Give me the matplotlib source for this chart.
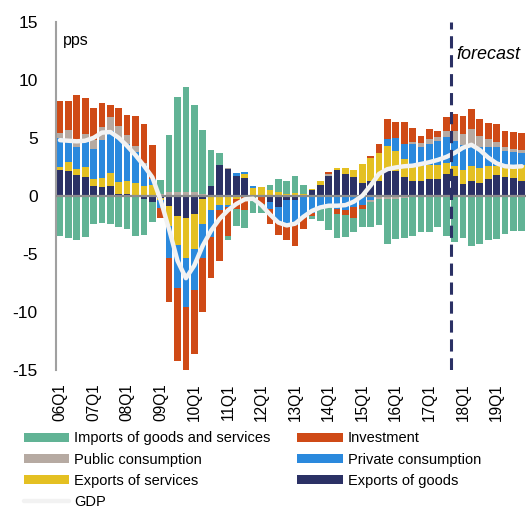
import numpy as np
import matplotlib
matplotlib.use("Agg")
from matplotlib import pyplot as plt

plt.rcParams['font.family'] = ['Liberation Sans', 'DejaVu Sans']
plt.rcParams['axes.unicode_minus'] = False

# quarters 2006Q1 .. 2019Q4
quarters = ["%02dQ%d" % (y, q) for y in range(6, 20) for q in range(1, 5)]

exp_goods = [2.2, 2.15, 1.78, 1.6, 0.83, 0.78, 0.83, 0.2, 0.2, 0.1, -0.23, -0.49, -0.2, -0.89,
             -1.75, -1.93, -1.55, -0.3, 0.89, 2.67, 2.33, 1.7, 1.55, 0.0, 0.0, -0.5, -1.0, -0.4,
             -0.4, 0.0, 0.5, 0.9, 1.75, 2.25, 1.9, 1.6, 1.12, 1.24, 1.3, 2.18, 2.18, 1.6, 1.32, 1.26,
             1.47, 1.47, 1.9, 1.67, 0.98, 1.24, 1.12, 1.41, 1.81, 1.61, 1.55, 1.24]
exp_serv = [0.29, 0.78, 0.57, 0.85, 0.66, 0.8, 1.18, 1.0, 1.09, 1.03, 0.83, 0.95, -0.15, -1.67,
            -2.53, -3.44, -3.0, -2.1, -1.26, -0.83, -0.78, -0.26, 0.34, 0.69, 0.75, 0.46, 0.37, 0.17,
            0.25, 0.15, 0.1, 0.35, 0.0, 0.15, 0.5, 0.65, 1.64, 2.04, 2.36, 2.15, 1.72, 1.59, 1.28, 1.35,
            1.15, 1.15, 0.92, 0.86, 1.26, 1.32, 1.29, 1.12, 0.72, 0.8, 0.86, 1.38]
priv_cons = [2.5, 2.0, 1.87, 2.2, 2.53, 3.22, 3.56, 3.8, 3.22, 2.64, 1.87, 0.52, -0.7, -2.78,
             -3.68, -4.23, -3.6, -3.0, -2.3, -0.35, -0.14, 0.29, 0.17, 0.2, 0.0, -0.6, -1.25, -2.1,
             -2.15, -1.85, -1.45, -1.0, -1.0, -1.1, -1.2, -1.0, -0.8, -0.4, 0.0, 0.57, 1.07, 1.29, 1.83, 1.64,
             1.87, 2.07, 2.24, 2.24, 2.18, 1.93, 1.78, 1.67, 1.67, 1.49, 1.35, 1.06]
pub_cons = [0.46, 0.72, 0.5, 0.65, 0.78, 1.15, 1.24, 1.0, 0.72, 0.52, 0.1, 0.0, 0.15, 0.3,
            0.3, 0.37, 0.3, 0.15, 0.0, 0.0, 0.06, 0.0, 0.0, 0.0, 0.0, 0.0, 0.0, 0.0,
            0.0, 0.0, 0.0, 0.0, 0.1, 0.0, 0.0, 0.0, 0.0, -0.1, -0.25, -0.3, -0.3, -0.15, 0.2, 0.29,
            0.43, 0.37, 0.52, 0.8, 0.92, 1.29, 1.0, 0.72, 0.43, 0.29, 0.29, 0.23]
investment = [2.7, 2.56, 3.96, 3.1, 2.73, 2.07, 1.0, 1.55, 1.78, 2.59, 3.35, 2.87, -0.9, -3.83,
              -6.24, -5.46, -5.45, -4.6, -3.53, -4.4, -2.56, -0.86, -1.18, 0.0, -0.69, -1.35, -1.15, -1.35,
              -1.75, -1.05, -0.3, 0.0, 0.2, -0.45, -0.45, -0.9, -0.3, 0.14, 0.8, 1.72, 1.38, 1.92, 1.21, 0.66,
              0.86, 0.52, 1.2, 1.5, 1.5, 1.67, 1.44, 1.38, 1.52, 1.38, 1.44, 1.49]
imports = [-3.5, -3.6, -3.85, -3.55, -2.44, -2.33, -2.39, -2.67, -2.9, -3.45, -3.16, -1.78, 1.2, 4.96,
           8.2, 9.0, 7.5, 5.55, 3.07, 0.98, -0.29, -1.44, -1.61, -1.47, -0.78, 0.49, 1.1, 1.13,
           1.5, 0.75, -0.25, -1.2, -1.95, -2.05, -1.9, -1.2, -1.6, -2.15, -2.3, -3.85, -3.4, -3.5, -3.45, -3.1,
           -3.13, -2.7, -3.42, -3.94, -3.65, -4.34, -4.14, -3.77, -3.7, -3.28, -3.07, -2.99]
gdp = [4.8, 4.75, 4.7, 4.75, 5.0, 5.45, 5.5, 5.0, 4.3, 3.5, 2.6, 1.6, -0.4, -2.9,
       -5.6, -7.1, -6.0, -4.3, -3.0, -2.0, -1.25, -0.7, -0.3, -0.25, -0.8, -1.6, -2.3, -2.55,
       -2.4, -1.8, -1.3, -1.0, -0.85, -0.85, -0.8, -0.5, 0.0, 0.9, 1.9, 2.3, 2.45, 2.55, 2.6, 2.75,
       2.9, 3.1, 3.35, 3.7, 4.15, 4.4, 3.95, 3.3, 2.8, 2.55, 2.5, 2.55]

forecast_start = 46.6

series = [
    ("Exports of goods", exp_goods, "#2b3165"),
    ("Exports of services", exp_serv, "#e4c022"),
    ("Private consumption", priv_cons, "#2a89dd"),
    ("Public consumption", pub_cons, "#b6aaa2"),
    ("Investment", investment, "#cf4a16"),
    ("Imports of goods and services", imports, "#61b395"),
]

fig = plt.figure(figsize=(5.26, 5.08), dpi=100)
ax = fig.add_axes([0.106, 0.272, 0.894, 0.685])

x = np.arange(len(quarters))
pos = np.zeros(len(x))
neg = np.zeros(len(x))
handles = {}
for name, vals, col in series:
    v = np.array(vals)
    bottom = np.where(v >= 0, pos, neg)
    h = ax.bar(x, v, width=0.8, bottom=bottom, color=col, zorder=2, label=name)
    handles[name] = h
    pos = pos + np.clip(v, 0, None)
    neg = neg + np.clip(v, None, 0)

ax.axhline(0, color="#8c8c8c", lw=1.6, zorder=3)
gdp_line, = ax.plot(x, gdp, color="#f2f2f2", lw=3.2, zorder=4, solid_capstyle="round", label="GDP")
ax.axvline(forecast_start, color="#2b3165", lw=2.2, ls=(0, (4, 2.2)), zorder=5)

ax.text(forecast_start + 0.65, 12.2, "forecast", fontsize=13, style="italic", va="center", ha="left")
ax.text(0.3, 13.4, "pps", fontsize=11.5, va="center", ha="left")

ax.set_xlim(-0.5, len(x) - 0.5)
ax.set_ylim(-15, 15)
ax.set_yticks([-15, -10, -5, 0, 5, 10, 15])
ax.set_xticks(x[::4])
ax.set_xticklabels(quarters[::4], rotation=90)
ax.tick_params(axis="both", length=0)
ax.tick_params(axis="y", pad=13, labelsize=12.5)
ax.tick_params(axis="x", pad=10, labelsize=11.2)
for s in ["top", "right", "bottom"]:
    ax.spines[s].set_visible(False)
ax.spines["left"].set_color("#a0a0a0")
ax.spines["left"].set_linewidth(1.5)

order = [handles["Imports of goods and services"], handles["Public consumption"],
         handles["Exports of services"], gdp_line, handles["Investment"],
         handles["Private consumption"], handles["Exports of goods"]]
labels = ["Imports of goods and services", "Public consumption", "Exports of services", "GDP",
          "Investment", "Private consumption", "Exports of goods"]
fig.legend(order, labels, loc="upper left", bbox_to_anchor=(0.045, 0.151), ncol=2,
           frameon=False, fontsize=10.5, handlelength=3.1, handleheight=0.6,
           labelspacing=0.5, columnspacing=1.85, handletextpad=0.35, borderpad=0, borderaxespad=0)

fig.savefig("out.png", dpi=100)
